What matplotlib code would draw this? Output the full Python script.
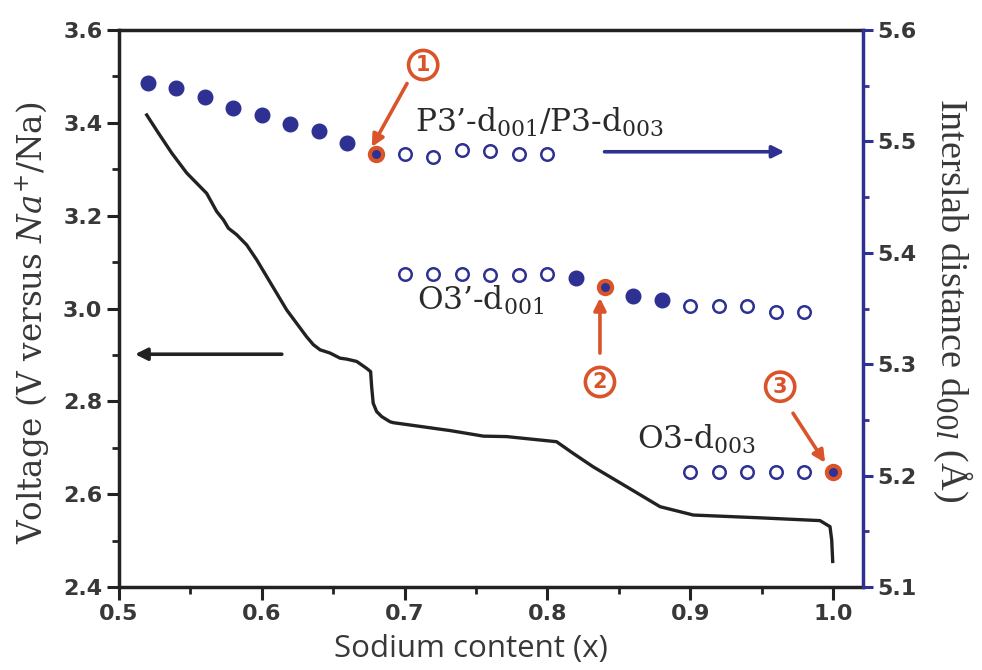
import matplotlib
matplotlib.use("Agg")
import matplotlib.pyplot as plt
from matplotlib.ticker import MultipleLocator, FormatStrFormatter

plt.rcParams['mathtext.fontset'] = 'custom'
plt.rcParams['mathtext.rm'] = 'DejaVu Serif'
plt.rcParams['mathtext.it'] = 'DejaVu Serif:italic'

# ---- voltage curve (left axis) ----
volt_x = [0.5194, 0.5276, 0.5369, 0.5474, 0.5614, 0.5684, 0.5731, 0.5766, 0.5824,
          0.5894, 0.5964, 0.6034, 0.6104, 0.6174, 0.6244, 0.6314, 0.6361, 0.6408,
          0.6478, 0.6548, 0.6594, 0.6664, 0.6711, 0.6734, 0.6762, 0.6769, 0.6780,
          0.6804, 0.6840, 0.6898, 0.6921, 0.7085, 0.7318, 0.7552, 0.7715, 0.8064,
          0.8180, 0.8320, 0.8555, 0.8789, 0.9022, 0.9489, 0.9909, 0.9979, 0.9991,
          0.9998]
volt_v = [3.417, 3.378, 3.335, 3.292, 3.248, 3.209, 3.191, 3.173, 3.159,
          3.137, 3.105, 3.069, 3.033, 2.997, 2.968, 2.939, 2.922, 2.911,
          2.904, 2.893, 2.891, 2.886, 2.876, 2.871, 2.864, 2.832, 2.796,
          2.778, 2.767, 2.756, 2.754, 2.747, 2.737, 2.725, 2.724, 2.713,
          2.688, 2.659, 2.616, 2.573, 2.555, 2.549, 2.543, 2.530, 2.501,
          2.455]

# ---- interslab distances (right axis) ----
p3_filled_x = [0.52, 0.54, 0.56, 0.58, 0.60, 0.62, 0.64, 0.66]
p3_filled_d = [5.552, 5.548, 5.540, 5.530, 5.524, 5.516, 5.509, 5.499]
p3_open_x = [0.70, 0.72, 0.74, 0.76, 0.78, 0.80]
p3_open_d = [5.489, 5.486, 5.492, 5.491, 5.489, 5.489]

o3p_open_x = [0.70, 0.72, 0.74, 0.76, 0.78, 0.80, 0.90, 0.92, 0.94, 0.96, 0.98]
o3p_open_d = [5.381, 5.381, 5.381, 5.380, 5.380, 5.381, 5.352, 5.352, 5.352, 5.347, 5.347]
o3p_filled_x = [0.82, 0.86, 0.88]
o3p_filled_d = [5.377, 5.361, 5.358]

o3_open_x = [0.90, 0.92, 0.94, 0.96, 0.98]
o3_open_d = [5.203, 5.203, 5.203, 5.203, 5.203]

mark_x = [0.68, 0.84, 1.00]
mark_d = [5.489, 5.369, 5.203]
mark_labels = ['1', '2', '3']

x_ticks = [0.5, 0.6, 0.7, 0.8, 0.9, 1.0]
v_ticks = [2.4, 2.6, 2.8, 3.0, 3.2, 3.4, 3.6]
d_ticks = [5.1, 5.2, 5.3, 5.4, 5.5, 5.6]

NAVY = '#2e3192'
RED = '#d9542b'
INK = '#222222'
TXT = '#383838'

fig = plt.figure(figsize=(9.82, 6.70), dpi=100)
ax = fig.add_axes([0.1212, 0.1239, 0.7576, 0.8313])
ax2 = ax.twinx()

ax.plot(volt_x, volt_v, color=INK, lw=2.4, zorder=3)
ax.set_xlim(0.5, 1.021)
ax.set_ylim(2.4, 3.6)
ax.set_xticks(x_ticks)
ax.set_yticks(v_ticks)
ax.xaxis.set_minor_locator(MultipleLocator(0.05))
ax.yaxis.set_minor_locator(MultipleLocator(0.1))
ax.xaxis.set_major_formatter(FormatStrFormatter('%.1f'))
ax.yaxis.set_major_formatter(FormatStrFormatter('%.1f'))

ax2.set_ylim(5.1, 5.6)
ax2.set_yticks(d_ticks)
ax2.yaxis.set_minor_locator(MultipleLocator(0.05))
ax2.yaxis.set_major_formatter(FormatStrFormatter('%.1f'))

for s in ['left', 'bottom', 'top']:
    ax.spines[s].set_linewidth(2.5)
    ax.spines[s].set_color(INK)
ax.spines['right'].set_visible(False)
for s in ['left', 'bottom', 'top']:
    ax2.spines[s].set_visible(False)
ax2.spines['right'].set_linewidth(2.5)
ax2.spines['right'].set_color(NAVY)

ax.tick_params(axis='both', which='major', direction='out', length=9, width=2.2,
               color=INK, labelcolor=TXT, labelsize=16, pad=3)
ax.tick_params(axis='both', which='minor', direction='out', length=5, width=2.0, color=INK)
ax.tick_params(axis='x', which='both', top=False)
ax2.tick_params(axis='y', which='major', direction='out', length=7, width=2.2,
                color=NAVY, labelcolor=TXT, labelsize=16, pad=3)
ax2.tick_params(axis='y', which='minor', direction='out', length=4, width=2.0, color=NAVY)
for lab in ax.get_xticklabels() + ax.get_yticklabels() + ax2.get_yticklabels():
    lab.set_fontfamily('DejaVu Sans')
    lab.set_fontweight('bold')

ax.set_xlabel('Sodium content (x)', fontsize=22.5, family='Open Sans', color=TXT)
ax.xaxis.set_label_coords(0.473, -0.085)
ax.set_ylabel(r'Voltage (V versus $\mathit{Na}^{+}$/Na)', fontsize=23.5,
              family='DejaVu Serif', color=TXT)
ax.yaxis.set_label_coords(-0.09, 0.474)
ax2.set_ylabel(r'Interslab distance d$_{00\mathit{l}}$ (Å)', fontsize=27.5,
               family='Liberation Serif', color=TXT, rotation=270)
ax2.yaxis.set_label_coords(1.15, 0.515)

# points
ax2.plot(p3_filled_x, p3_filled_d, 'o', ms=10.5, color=NAVY, mec=NAVY, zorder=4)
ax2.plot(p3_open_x, p3_open_d, 'o', ms=9, mfc='white', mec=NAVY, mew=1.8, zorder=4)
ax2.plot(o3p_open_x, o3p_open_d, 'o', ms=9, mfc='white', mec=NAVY, mew=1.8, zorder=4)
ax2.plot(o3p_filled_x, o3p_filled_d, 'o', ms=10.5, color=NAVY, mec=NAVY, zorder=4)
ax2.plot(o3_open_x, o3_open_d, 'o', ms=9, mfc='white', mec=NAVY, mew=1.8, zorder=4)
ax2.plot(mark_x, mark_d, 'o', ms=9.5, mfc=NAVY, mec=RED, mew=3.0, zorder=5)

# phase labels
lab_kw = dict(fontsize=22.5, family='DejaVu Serif', color='#2a2a2a', va='center', ha='left')
ax2.text(0.707, 5.517, r'P3’-d$_{001}$/P3-d$_{003}$', **lab_kw)
ax2.text(0.7085, 5.357, r'O3’-d$_{001}$', **lab_kw)
ax2.text(0.8627, 5.232, r'O3-d$_{003}$', **lab_kw)

# numbered markers with arrows
circ_pos = [(0.713, 5.5686), (0.8368, 5.284), (0.963, 5.2798)]
arrow_start = [(0.7017, 5.552), (0.8368, 5.310), (0.972, 5.256)]
arrow_end = [(0.677, 5.495), (0.8368, 5.3595), (0.9945, 5.2115)]
for (cx, cy), lab, s, e in zip(circ_pos, mark_labels, arrow_start, arrow_end):
    ax2.text(cx, cy, lab, fontsize=15, fontweight='bold', color=RED, ha='center',
             va='center', family='DejaVu Sans',
             bbox=dict(boxstyle='circle,pad=0.22', fc='white', ec=RED, lw=2.6))
    ax2.annotate('', xy=e, xytext=s,
                 arrowprops=dict(arrowstyle='-|>', color=RED, lw=2.6,
                                 mutation_scale=18, shrinkA=0, shrinkB=0))

# direction arrows
ax2.annotate('', xy=(0.966, 5.4907), xytext=(0.840, 5.4907),
             arrowprops=dict(arrowstyle='-|>', color=NAVY, lw=2.6,
                             mutation_scale=18, shrinkA=0, shrinkB=0))
ax.annotate('', xy=(0.5112, 2.9015), xytext=(0.614, 2.9015),
            arrowprops=dict(arrowstyle='-|>', color=INK, lw=2.6,
                            mutation_scale=18, shrinkA=0, shrinkB=0))

fig.savefig('out.png', dpi=100)
